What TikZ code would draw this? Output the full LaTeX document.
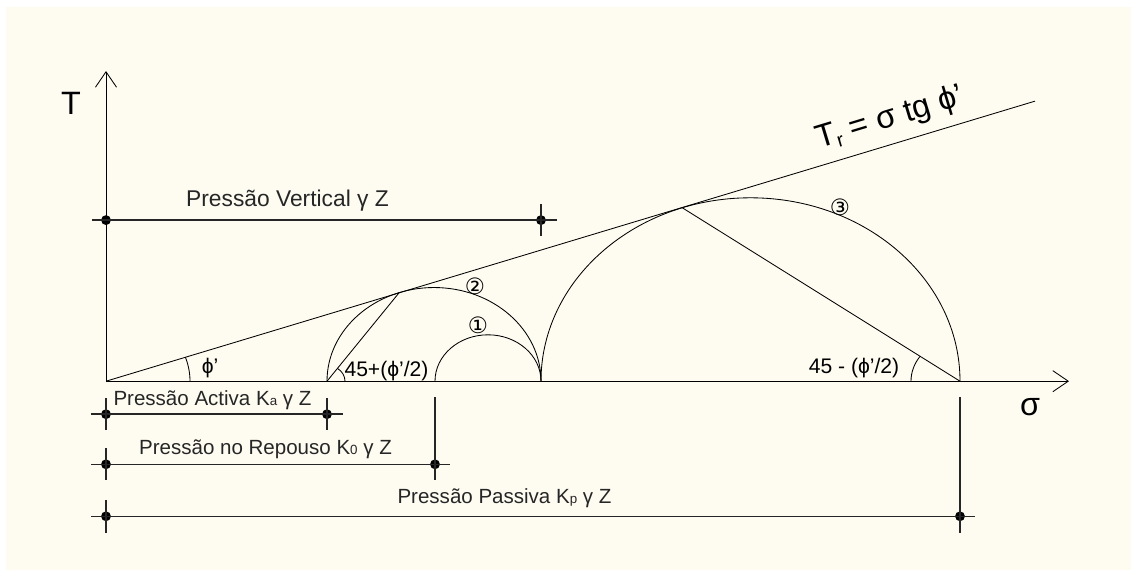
\documentclass[tikz,border=0pt]{standalone}
\usepackage{fontspec}
\setmainfont{Liberation Sans}
\newfontfamily\circfont{DejaVu Sans}
\usetikzlibrary{arrows.meta}
\definecolor{cream}{RGB}{254,252,241}
\newcommand{\lowsub}[1]{{\fontsize{9.5}{10}\selectfont #1}}
\tikzset{
  dimline/.style={line width=1.1pt, black!85},
  dimtick/.style={line width=0.8pt, black!85},
  dot/.style={circle, fill=black, inner sep=0pt, minimum size=7pt},
  lab/.style={font=\fontsize{14.6}{16}\selectfont, text=black!85, inner sep=0pt, anchor=base},
  angl/.style={font=\fontsize{15}{16}\selectfont, inner sep=0pt},
  num/.style={font=\circfont\fontsize{16}{17}\selectfont, inner sep=0pt},
  big/.style={font=\fontsize{23}{24}\selectfont, inner sep=0pt}
}
\begin{document}
\begin{tikzpicture}[x=0.025cm, y=0.021875cm, line width=0.6pt,
    >={Straight Barb[length=11pt,width=15pt]}]
  \fill[white] (-106,-216) rectangle (1025,435.43);
  \fill[cream] (-100,-216) rectangle (1025,427.4);
  \useasboundingbox (-106,-216) rectangle (1025,435.43);

  \coordinate (O) at (0,0);
  \coordinate (Ka) at (221,0);
  \coordinate (K0) at (329,0);
  \coordinate (V) at (435,0);
  \coordinate (Kp) at (854,0);
  \coordinate (R) at (929,319.9);
  \coordinate (P2) at (293.2,101.2);
  \coordinate (P3) at (576.3,198.1);

  % axes
  \draw[->] (O) -- (0,354.3) coordinate (Ty);
  \draw[->] (O) -- (963,0) coordinate (Sx);
  \node[big] (T) at (-35,317.7) {T};
  \node[big] (S) at (924,-29.7) {σ};

  % Mohr circles and envelope
  \draw (V) arc[start angle=0, end angle=180, radius=53];
  \draw (V) arc[start angle=0, end angle=180, radius=107];
  \draw (Kp) arc[start angle=0, end angle=180, radius=209.5];
  \draw (O) -- (R);
  \draw (Ka) -- (P2);
  \draw (Kp) -- (P3);
  \node[big, rotate=16.8] (law) at (784,300)
    {T\raisebox{-0.25ex}{\fontsize{14}{14}\selectfont r} = σ tg ϕ'};
  \node[num] (c1) at (372,64) {①};
  \node[num] (c2) at (369,108.6) {②};
  \node[num] (c3) at (734,198.9) {③};

  % angles
  \draw (84,0) arc[start angle=0, end angle=19, radius=84];
  \draw (239,0) arc[start angle=0, end angle=54.5, radius=18];
  \draw (805,0) arc[start angle=180, end angle=144.5, radius=49];
  \node[angl] (phi) at (104,14.9) {ϕ'};
  \node[angl] (angA) at (280.5,12) {45+(ϕ'/2)};
  \node[angl] (angP) at (748,15.4) {45 - (ϕ'/2)};

  % vertical pressure
  \node[dot] (v0) at (0,184) {};
  \node[dot] (v1) at (435,184) {};
  \draw[dimline] (v0.center) ++(-14,0) -- (v1.center) -- ++(16,0);
  \draw[dimtick] (v1.center) ++(0,18.3) -- ++(0,-36.6);
  \node[lab, font=\fontsize{16.2}{17}\selectfont] (lv) at (181.5,200) {Pressão Vertical γ Z};

  % active pressure
  \node[dot] (a0) at (0,-37.7) {};
  \node[dot] (a1) at (221,-37.7) {};
  \draw[dimline] (a0.center) ++(-15,0) -- (a1.center) -- ++(16,0);
  \draw[dimtick] (a0.center) ++(0,18.3) -- ++(0,-36.6);
  \draw[dimtick] (a1.center) ++(0,18.3) -- ++(0,-36.6);
  \node[lab] (la) at (106.5,-27.4) {Pressão Activa K\lowsub{a} γ Z};

  % at rest pressure
  \node[dot] (r0) at (0,-94.9) {};
  \node[dot] (r1) at (329,-94.9) {};
  \draw[dimline] (r0.center) ++(-15,0) -- (r1.center) -- ++(15,0);
  \draw[dimtick] (r0.center) ++(0,18.3) -- ++(0,-36.6);
  \draw[dimtick] (K0) ++(0,-18.3) -- (r1.center) -- ++(0,-18.3);
  \node[lab] (lr) at (159.5,-83.4) {Pressão no Repouso K\lowsub{0} γ Z};

  % passive pressure
  \node[dot] (p0) at (0,-154.3) {};
  \node[dot] (p1) at (854,-154.3) {};
  \draw[dimline] (p0.center) ++(-15,0) -- (p1.center) -- ++(15,0);
  \draw[dimtick] (p0.center) ++(0,18.3) -- ++(0,-37.7);
  \draw[dimtick] (Kp) ++(0,-18.3) -- (p1.center) -- ++(0,-19.4);
  \node[lab] (lp) at (398.5,-139.4) {Pressão Passiva K\lowsub{p} γ Z};
\end{tikzpicture}
\end{document}
